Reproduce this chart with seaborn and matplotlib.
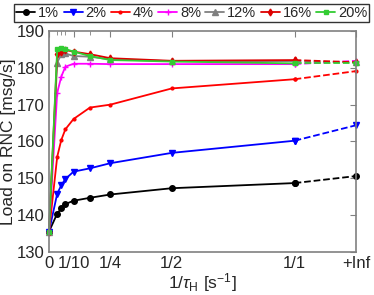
import pandas as pd
import matplotlib
matplotlib.use("Agg")
import matplotlib.pyplot as plt
import seaborn as sns
import numpy as np

# valores de 1/tau_H (o ultimo ponto e +Inf)
x_vals = [0, 1/30, 1/20, 1/15, 1/10, 1/6, 1/4, 1/2, 1.0]
INF_POS = 1.25

rotulos = ['1%', '2%', '4%', '8%', '12%', '16%', '20%']

carga_1 = [135.5, 140.4, 141.8, 143.0, 143.9, 144.7, 145.6, 147.3, 148.7]
carga_2 = [135.5, 145.8, 148.1, 149.8, 151.8, 152.7, 154.1, 156.9, 160.2]
carga_4 = [135.5, 155.8, 160.4, 163.3, 166.1, 169.2, 170.0, 174.4, 176.9]
carga_8 = [135.5, 173.2, 177.6, 180.3, 181.1, 181.1, 181.0, 181.0, 181.0]
carga_12 = [135.5, 181.4, 183.7, 183.9, 183.2, 183.0, 182.3, 181.8, 181.8]
carga_16 = [135.5, 183.7, 184.4, 184.8, 184.4, 183.7, 182.6, 181.9, 182.1]
carga_20 = [135.5, 185.0, 185.3, 185.1, 184.4, 183.2, 182.1, 181.7, 181.2]

# valores em +Inf
carga_inf = [150.6, 164.4, 179.1, 181.9, 181.5, 181.5, 181.2]

series = [carga_1, carga_2, carga_4, carga_8, carga_12, carga_16, carga_20]
cores = ['#000000', '#0000ff', '#ff0000', '#ff00ff', '#808080', '#dd0000', '#33cc33']
marcadores = ['o', 'v', '.', '+', '^', 'd', 's']
tam_marc = [4, 5, 4, 5, 4, 3.5, 3.5]

sns.set_style("white")
plt.rcParams['font.family'] = ['Liberation Sans', 'DejaVu Sans']
plt.rcParams['mathtext.fontset'] = 'custom'
plt.rcParams['mathtext.rm'] = 'Liberation Sans'
plt.rcParams['mathtext.it'] = 'Liberation Sans:italic'

fig, ax = plt.subplots(figsize=(3.74, 2.95), dpi=100)
fig.subplots_adjust(left=0.131, right=0.952, top=0.895, bottom=0.146)

# trechos tracejados de 1/1 ate +Inf
for s, v_inf, c, m, ms in zip(series, carga_inf, cores, marcadores, tam_marc):
    df_d = pd.DataFrame({'x': [x_vals[-1], INF_POS], 'y': [s[-1], v_inf]})
    sns.lineplot(data=df_d, x='x', y='y', ax=ax, color=c, linestyle='--',
                 linewidth=1.3, marker=m, markersize=ms, markeredgecolor=c,
                 markeredgewidth=1, sort=False, clip_on=False)

# curvas principais
for s, c, m, ms, r in zip(series, cores, marcadores, tam_marc, rotulos):
    df_s = pd.DataFrame({'x': x_vals, 'y': s})
    sns.lineplot(data=df_s, x='x', y='y', ax=ax, color=c, marker=m,
                 markersize=ms, markeredgecolor=c, markeredgewidth=1,
                 linewidth=1.3, sort=False, label=r, clip_on=False)

ax.set_xlim(0, INF_POS)
ax.set_ylim(130, 190)
ax.set_xticks([0, 1/10, 1/4, 1/2, 1.0, INF_POS])
ax.set_xticklabels(['0', '1/10', '1/4', '1/2', '1/1', '+Inf'])
ax.set_xticks(x_vals[1:4] + [1/6], minor=True)
ax.set_yticks(np.arange(130, 191, 10))
ax.tick_params(axis='both', which='both', direction='in', top=True, right=True,
               labelsize=12, color='#808080', pad=3)
ax.tick_params(which='major', length=4)
ax.tick_params(which='minor', length=3)
for sp in ax.spines.values():
    sp.set_color('#808080')
    sp.set_linewidth(1.2)

ax.set_xlabel(r'1/$\tau_\mathrm{H}$ [s$^{-1}$]', fontsize=12.5, labelpad=0)
ax.set_ylabel('Load on RNC [msg/s]', fontsize=12.5, labelpad=1)

leg = ax.legend(loc='lower center', bbox_to_anchor=(0.465, 1.04), ncol=7,
                fontsize=10.5, handlelength=1.3, handletextpad=0.2,
                columnspacing=0.3, borderpad=0.15, borderaxespad=0,
                frameon=True, fancybox=False)
leg.get_frame().set_edgecolor('black')
leg.get_frame().set_linewidth(1)

plt.savefig("out.png", dpi=100)
